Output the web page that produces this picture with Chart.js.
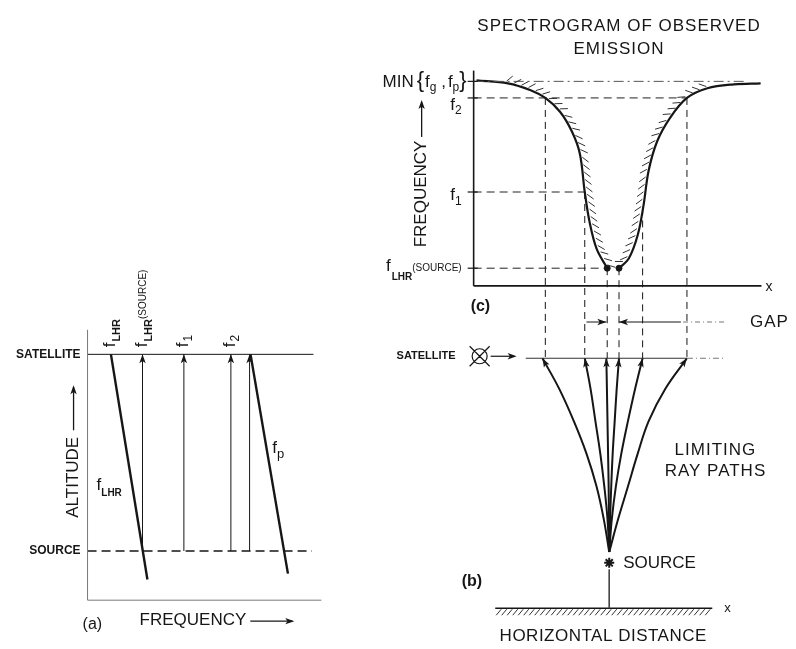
<!DOCTYPE html>
<html>
<head>
<meta charset="utf-8">
<script src="https://cdn.jsdelivr.net/npm/chart.js@4.4.1/dist/chart.umd.min.js"></script>
<style>
  html, body { margin: 0; padding: 0; background: #fff; }
  #wrap { position: relative; width: 796px; height: 649px; }
</style>
</head>
<body>
<div id="wrap"><canvas id="fig" width="796" height="649"></canvas></div>
<script>
// ---- panel (a): altitude vs frequency ----
var altSource = 2, altSatellite = 10;
var lhrFreq = [1.0, 2.56], lhrAlt = [10, 0.84];
var fpFreq = [6.97, 8.57], fpAlt = [10, 1.08];
var arrowFreq = [2.35, 4.12, 6.13, 6.93];
var satLineFreq = [0, 9.66];
var srcLineFreq = [0, 9.6];

// ---- panel (c): spectrogram of observed emission ----
var leftX = [0.10, 1.19, 1.98, 2.49, 3.00, 3.41, 3.69, 3.86, 4.03, 4.27, 4.64];
var leftF = [9.55, 9.41, 9.09, 8.73, 8.09, 7.18, 6.14, 4.36, 2.95, 1.73, 0.82];
var rightX = [5.05, 5.39, 5.70, 5.90, 6.08, 6.38, 6.83, 7.41, 8.12, 9.04, 9.97];
var rightF = [0.82, 1.27, 2.36, 3.73, 5.36, 6.73, 7.82, 8.73, 9.18, 9.36, 9.41];
var levelF = [9.5, 8.73, 4.36, 0.82];          // MIN{fg,fp}, f2, f1, fLHR(source)
var levelEndX = [9.4, 7.41, 3.86, 4.64];
var dropX = [2.49, 3.86, 4.64, 5.05, 5.87, 7.41];
var dropF = [8.73, 4.36, 0.82, 0.82, 3.6, 8.73];

// ---- panel (b): limiting ray paths ----
var sourceX = 4.71, sourceAlt = 1.35, bSatAlt = 6;
var rayAlt = [1.35, 2.14, 2.92, 3.71, 4.49, 5.27, 6.0];
var ray1 = [4.71, 4.52, 4.27, 3.92, 3.48, 2.97, 2.39];
var ray2 = [4.71, 4.65, 4.54, 4.40, 4.23, 4.06, 3.86];
var ray3 = [4.71, 4.70, 4.69, 4.67, 4.65, 4.63, 4.61];
var ray4 = [4.71, 4.74, 4.78, 4.83, 4.90, 4.97, 5.05];
var ray5 = [4.71, 4.80, 4.94, 5.13, 5.36, 5.61, 5.87];
var ray6 = [4.71, 5.02, 5.36, 5.70, 6.08, 6.66, 7.41];
var bSatLineX = [1.81, 7.41, 8.70];
var groundX = [0.75, 8.29];
var gapAlt = 6.87;
var gapLeftX = [3.92, 4.61];
var gapRightX = [7.2, 5.05];
var gapTailX = [8.70, 7.2];

var W = 796, H = 649;
var F = '"Liberation Sans", Arial, sans-serif';
var INK = '#161616';

// scale ranges so each panel sits where it does in the figure
function hScale(v0, p0, v1, p1) {
  var k = (p1 - p0) / (v1 - v0);
  return { type: 'linear', display: false, min: v0 - p0 / k, max: v0 + (W - p0) / k };
}
function vScale(v0, p0, v1, p1) {
  var k = (p0 - p1) / (v1 - v0);
  return { type: 'linear', display: false, min: v0 - (H - p0) / k, max: v0 + p0 / k };
}

function pts(xs, ys) { return xs.map(function (x, i) { return { x: x, y: ys[i] }; }); }
function seg(xs, ys, xId, yId, extra) {
  var d = { data: pts(xs, ys), xAxisID: xId, yAxisID: yId, borderColor: INK, backgroundColor: INK,
    borderWidth: 1, pointRadius: 0, tension: 0, fill: false, clip: false, showLine: true };
  for (var k in extra) d[k] = extra[k];
  return d;
}

var datasets = [];
// panel a
datasets.push(seg([0, 0], [0, 11], 'xA', 'yA', { borderColor: '#777' }));
datasets.push(seg([0, 10], [0, 0], 'xA', 'yA', { borderColor: '#777' }));
datasets.push(seg(satLineFreq, [altSatellite, altSatellite], 'xA', 'yA', {}));
datasets.push(seg(srcLineFreq, [altSource, altSource], 'xA', 'yA', { borderDash: [9, 5], borderWidth: 1.6 }));
datasets.push(seg(lhrFreq, lhrAlt, 'xA', 'yA', { borderWidth: 2.4 }));
datasets.push(seg(fpFreq, fpAlt, 'xA', 'yA', { borderWidth: 2.4 }));
arrowFreq.forEach(function (f) {
  datasets.push(seg([f, f], [altSource, altSatellite], 'xA', 'yA', { arrow: true }));
});
// panel c
datasets.push(seg([0, 0], [0, 10], 'xR', 'yC', { borderWidth: 1.6 }));
datasets.push(seg([0, 10], [0, 0], 'xR', 'yC', { borderWidth: 1.6 }));
levelF.forEach(function (f, i) {
  datasets.push(seg([0, levelEndX[i]], [f, f], 'xR', 'yC',
    { borderDash: i === 0 ? [10, 4, 2, 4] : [8, 5], borderColor: i === 0 ? '#555' : '#222' }));
});
datasets.push(seg(leftX, leftF, 'xR', 'yC', { borderWidth: 2.2, tension: 0.35, hatch: { from: 1.1, to: 4.6, slant: 1 } }));
datasets.push(seg(rightX, rightF, 'xR', 'yC', { borderWidth: 2.2, tension: 0.35, hatch: { from: 5.1, to: 8.2, slant: -1 } }));
datasets.push(seg([leftX[leftX.length - 1], rightX[0]], [leftF[leftF.length - 1], rightF[0]], 'xR', 'yC',
  { showLine: false, pointRadius: 3 }));
// panel b
datasets.push(seg(bSatLineX.slice(0, 2), [bSatAlt, bSatAlt], 'xR', 'yB', { borderColor: '#333' }));
datasets.push(seg(bSatLineX.slice(1), [bSatAlt, bSatAlt], 'xR', 'yB', { borderColor: '#777', borderDash: [6, 3, 1, 3] }));
[ray1, ray2, ray3, ray4, ray5, ray6].forEach(function (r) {
  datasets.push(seg(r, rayAlt, 'xR', 'yB', { borderWidth: 2, tension: 0.4, arrow: true }));
});
datasets.push(seg([sourceX, sourceX], [0.93, 0], 'xR', 'yB', { borderColor: '#444' }));
datasets.push(seg([sourceX], [1.09], 'xR', 'yB',
  { showLine: false, pointRadius: 5, pointStyle: 'star', pointBorderWidth: 2, pointBorderColor: INK }));
datasets.push(seg(groundX, [0, 0], 'xR', 'yB', { borderWidth: 1.4, ground: true }));
datasets.push(seg(gapLeftX, [gapAlt, gapAlt], 'xR', 'yB', { arrow: true }));
datasets.push(seg(gapRightX, [gapAlt, gapAlt], 'xR', 'yB', { arrow: true }));
datasets.push(seg(gapTailX, [gapAlt, gapAlt], 'xR', 'yB', { borderColor: '#777', borderDash: [5, 3, 1, 3] }));

function head(ctx, x, y, ang, len, half) {
  ctx.save();
  ctx.translate(x, y);
  ctx.rotate(ang);
  ctx.beginPath();
  ctx.moveTo(0, 0);
  ctx.lineTo(-len, -half);
  ctx.lineTo(-len * 0.75, 0);
  ctx.lineTo(-len, half);
  ctx.closePath();
  ctx.fillStyle = INK;
  ctx.fill();
  ctx.restore();
}
function line(ctx, x1, y1, x2, y2, w, dash) {
  ctx.save();
  ctx.strokeStyle = INK;
  ctx.lineWidth = w || 1;
  ctx.setLineDash(dash || []);
  ctx.beginPath();
  ctx.moveTo(x1, y1);
  ctx.lineTo(x2, y2);
  ctx.stroke();
  ctx.restore();
}
function fontOf(p) { return (p.b ? 'bold ' : '') + p.s + 'px ' + F; }
function runs(ctx, x, y, parts, align) {
  var w = 0, i, p;
  for (i = 0; i < parts.length; i++) { p = parts[i]; ctx.font = fontOf(p); w += ctx.measureText(p.t).width + (p.g || 0); }
  var cx = align === 'right' ? x - w : (align === 'center' ? x - w / 2 : x);
  ctx.textAlign = 'left';
  ctx.textBaseline = 'alphabetic';
  for (i = 0; i < parts.length; i++) {
    p = parts[i];
    ctx.font = fontOf(p);
    ctx.fillText(p.t, cx, y + (p.d || 0));
    cx += ctx.measureText(p.t).width + (p.g || 0);
  }
  return w;
}
function text(ctx, s, x, y, font, align) {
  ctx.font = font;
  ctx.textAlign = align || 'left';
  ctx.textBaseline = 'middle';
  ctx.fillText(s, x, y);
  return ctx.measureText(s).width;
}

var marks = {
  id: 'marks',
  afterDatasetsDraw: function (chart) {
    var ctx = chart.ctx, sc = chart.scales;
    chart.data.datasets.forEach(function (ds, i) {
      var el = chart.getDatasetMeta(i).data;
      if (ds.arrow) {
        var e = el[el.length - 1], tx = e.cp1x, ty = e.cp1y;
        if (tx === undefined || Math.hypot(e.x - tx, e.y - ty) < 0.5) { tx = el[el.length - 2].x; ty = el[el.length - 2].y; }
        head(ctx, e.x, e.y, Math.atan2(e.y - ty, e.x - tx), 9, 3.2);
      }
      if (ds.hatch) {
        var xs = sc[ds.xAxisID], step = 7.5, carry = 0, s = ds.hatch.slant;
        ctx.save();
        ctx.strokeStyle = '#333';
        ctx.lineWidth = 1;
        for (var j = 1; j < el.length; j++) {
          var a = el[j - 1], b = el[j], L = Math.hypot(b.x - a.x, b.y - a.y);
          var ux = (b.x - a.x) / L, uy = (b.y - a.y) / L, nx = uy, ny = -ux;
          var dx = nx + s * ux, dy = ny + s * uy, dl = Math.hypot(dx, dy);
          dx /= dl; dy /= dl;
          var d = carry;
          for (; d < L; d += step) {
            var px = a.x + ux * d, py = a.y + uy * d, v = xs.getValueForPixel(px);
            if (v < ds.hatch.from || v > ds.hatch.to) continue;
            ctx.beginPath();
            ctx.moveTo(px + nx * 2, py + ny * 2);
            ctx.lineTo(px + nx * 2 + dx * 8, py + ny * 2 + dy * 8);
            ctx.stroke();
          }
          carry = d - L;
        }
        ctx.restore();
      }
      if (ds.ground) {
        var g0 = el[0], g1 = el[el.length - 1];
        ctx.save();
        ctx.strokeStyle = '#333';
        ctx.lineWidth = 1;
        for (var gx = g0.x + 6; gx <= g1.x; gx += 5.5) {
          ctx.beginPath();
          ctx.moveTo(gx, g0.y + 1);
          ctx.lineTo(gx - 5, g0.y + 7);
          ctx.stroke();
        }
        ctx.restore();
      }
    });
  },
  afterDraw: function (chart) {
    var ctx = chart.ctx, sc = chart.scales;
    var xA = function (v) { return sc.xA.getPixelForValue(v); };
    var yA = function (v) { return sc.yA.getPixelForValue(v); };
    var xR = function (v) { return sc.xR.getPixelForValue(v); };
    var yC = function (v) { return sc.yC.getPixelForValue(v); };
    var yB = function (v) { return sc.yB.getPixelForValue(v); };
    ctx.save();
    ctx.fillStyle = INK;

    // connectors from the spectrogram down to the satellite track
    dropX.forEach(function (x, i) { line(ctx, xR(x), yC(dropF[i]), xR(x), yB(bSatAlt), 1, [7, 5]); });
    levelF.forEach(function (f) { line(ctx, xR(0) - 6, yC(f), xR(0) + 4, yC(f), 1.2); });

    // ---- panel a text ----
    var a0 = xA(0);
    text(ctx, 'SATELLITE', a0 - 7, yA(altSatellite), 'bold 12px ' + F, 'right');
    text(ctx, 'SOURCE', a0 - 7, yA(altSource), 'bold 12px ' + F, 'right');
    ctx.save();
    ctx.translate(a0 - 14, yA(5.0));
    ctx.rotate(-Math.PI / 2);
    text(ctx, 'ALTITUDE', 0, 0, '17px ' + F, 'center');
    line(ctx, 47, 0, 90, 0, 1.3);
    head(ctx, 92, 0, 0, 9, 3.2);
    ctx.restore();
    var fw = text(ctx, 'FREQUENCY', a0 + 52, yA(0) + 20, '17px ' + F, 'left');
    line(ctx, a0 + 52 + fw + 4, yA(0) + 21, a0 + 52 + fw + 46, yA(0) + 21, 1.4);
    head(ctx, a0 + 52 + fw + 48, yA(0) + 21, 0, 9, 3.2);
    text(ctx, '(a)', a0 - 5, yA(0) + 24, '16px ' + F, 'left');
    runs(ctx, a0 + 9, yA(4.74) + 6, [{ t: 'f', s: 17 }, { t: 'LHR', s: 10, b: true, d: 6 }], 'left');
    runs(ctx, xA(7.9), yA(6.22) + 6, [{ t: 'f', s: 17 }, { t: 'p', s: 13, d: 5 }], 'left');
    var topLabels = [
      [1.0, [{ t: 'f', s: 17, g: 1 }, { t: 'LHR', s: 11, b: true, d: 5 }]],
      [2.35, [{ t: 'f', s: 17, g: 1 }, { t: 'LHR', s: 11, b: true, d: 5 }, { t: '(SOURCE)', s: 10, d: -1 }]],
      [4.12, [{ t: 'f', s: 17, g: 1 }, { t: '1', s: 12, d: 4 }]],
      [6.13, [{ t: 'f', s: 17, g: 1 }, { t: '2', s: 12, d: 4 }]]
    ];
    topLabels.forEach(function (lb) {
      ctx.save();
      ctx.translate(xA(lb[0]) + 4, yA(altSatellite) - 7);
      ctx.rotate(-Math.PI / 2);
      runs(ctx, 0, 0, lb[1], 'left');
      ctx.restore();
    });

    // ---- panel c text ----
    var c0 = xR(0);
    ctx.letterSpacing = '1px';
    text(ctx, 'SPECTROGRAM OF OBSERVED', xR(5.05), yC(10) - 44, '17px ' + F, 'center');
    text(ctx, 'EMISSION', xR(5.05), yC(10) - 21, '17px ' + F, 'center');
    ctx.letterSpacing = '0px';
    runs(ctx, c0 - 7, yC(levelF[0]) + 6, [
      { t: 'MIN', s: 17, g: 3 }, { t: '{', s: 22, g: 1 }, { t: 'f', s: 17 }, { t: 'g', s: 12, d: 4 },
      { t: ' ,', s: 17, g: 2 }, { t: 'f', s: 17 }, { t: 'p', s: 12, d: 4 }, { t: '}', s: 22 }], 'right');
    runs(ctx, c0 - 12, yC(levelF[1]) + 12, [{ t: 'f', s: 17 }, { t: '2', s: 12, d: 4 }], 'right');
    runs(ctx, c0 - 12, yC(levelF[2]) + 8, [{ t: 'f', s: 17 }, { t: '1', s: 12, d: 5 }], 'right');
    runs(ctx, c0 - 12, yC(levelF[3]) + 3, [{ t: 'f', s: 17, g: 1 }, { t: 'LHR', s: 10, b: true, d: 9 },
      { t: '(SOURCE)', s: 10, d: 0 }], 'right');
    ctx.save();
    ctx.translate(c0 - 52, yC(4.27));
    ctx.rotate(-Math.PI / 2);
    text(ctx, 'FREQUENCY', 0, 0, '17px ' + F, 'center');
    line(ctx, 57, 0, 92, 0, 1.3);
    head(ctx, 94, 0, 0, 9, 3.2);
    ctx.restore();
    text(ctx, '(c)', c0 - 3, yC(0) + 21, 'bold 16px ' + F, 'left');
    text(ctx, 'x', xR(10) + 4, yC(0) + 1, '14px ' + F, 'left');
    ctx.letterSpacing = '1px';
    text(ctx, 'GAP', xR(9.6), yB(gapAlt), '17px ' + F, 'left');
    ctx.letterSpacing = '0px';

    // ---- panel b text ----
    text(ctx, 'SATELLITE', c0 - 18, yB(bSatAlt) - 2, 'bold 11px ' + F, 'right');
    var ox = c0 + 6, oy = yB(bSatAlt) - 2;
    ctx.save();
    ctx.strokeStyle = INK;
    ctx.lineWidth = 1.2;
    ctx.beginPath();
    ctx.arc(ox, oy, 7.5, 0, Math.PI * 2);
    ctx.moveTo(ox - 10, oy - 10); ctx.lineTo(ox + 10, oy + 10);
    ctx.moveTo(ox + 10, oy - 10); ctx.lineTo(ox - 10, oy + 10);
    ctx.stroke();
    ctx.restore();
    line(ctx, ox + 11, oy, ox + 34, oy, 1.2);
    head(ctx, ox + 37, oy, 0, 9, 3.2);
    ctx.letterSpacing = '1px';
    text(ctx, 'LIMITING', xR(8.4), yB(3.79), '17px ' + F, 'center');
    text(ctx, 'RAY PATHS', xR(8.4), yB(3.28), '17px ' + F, 'center');
    ctx.letterSpacing = '0px';
    text(ctx, 'SOURCE', xR(sourceX) + 14, yB(1.09), '17px ' + F, 'left');
    text(ctx, '(b)', c0 - 12, yB(0.65), 'bold 16px ' + F, 'left');
    text(ctx, 'x', xR(groundX[1]) + 12, yB(0), '13px ' + F, 'left');
    ctx.letterSpacing = '0.5px';
    text(ctx, 'HORIZONTAL DISTANCE', xR(sourceX) - 6, yB(0) + 28, '17px ' + F, 'center');
    ctx.restore();
  }
};

new Chart(document.getElementById('fig'), {
  type: 'line',
  data: { datasets: datasets },
  options: {
    responsive: false,
    animation: false,
    events: [],
    devicePixelRatio: 1,
    layout: { padding: 0 },
    plugins: { legend: { display: false }, tooltip: { enabled: false } },
    scales: {
      xA: hScale(0, 82, 10, 320),
      yA: vScale(altSource, 556, altSatellite, 355),
      xR: hScale(0, 475, 10, 768),
      yC: vScale(0, 285, 10, 65),
      yB: vScale(sourceAlt, 557, bSatAlt, 359)
    }
  },
  plugins: [marks]
});
</script>
</body>
</html>
